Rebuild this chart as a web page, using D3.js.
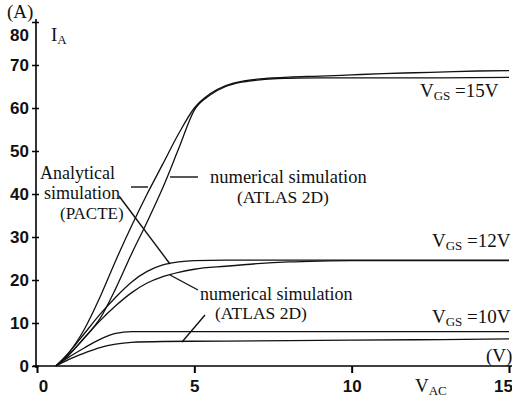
<!DOCTYPE html>
<html><head><meta charset="utf-8">
<script src="https://cdn.jsdelivr.net/npm/d3@7"></script>
<style>
html,body{margin:0;padding:0;background:#fff;}
svg{display:block;}
</style></head><body>
<svg id="c" width="512" height="400"></svg>
<script>
// ---- data (V_AC in volts, I_A in amperes) ----
const xTicks = [0, 5, 10, 15];
const yTicks = [0, 10, 20, 30, 40, 50, 60, 70, 80];

const vac15A = [0.6, 1.0, 1.5, 2.0, 2.5, 3.0, 3.5, 4.0, 4.5, 5.0, 5.5, 6.0, 6.5, 7.0, 7.5, 8.0, 9.0, 10.0, 11.0, 12.0, 13.0, 14.0, 15.0];
const ia15A  = [0, 3, 8.5, 16, 24.5, 32.5, 40, 47, 54, 60, 63.3, 65.2, 66.2, 66.7, 67, 67.2, 67.4, 67.7, 68, 68.2, 68.4, 68.6, 68.7];
const vac15N = [0.6, 1.0, 1.5, 2.0, 2.5, 3.0, 3.5, 4.0, 4.5, 5.0, 5.5, 6.0, 6.5, 7.0, 7.5, 8.0, 9.0, 10.0, 12.0, 15.0];
const ia15N  = [0, 2.5, 6.5, 11, 18, 26, 33.5, 41.5, 50.5, 59.5, 63, 65, 66, 66.5, 66.8, 66.9, 67, 67, 67, 67.1];

const vac12A = [0.6, 1.0, 1.5, 2.0, 2.5, 3.0, 3.5, 4.0, 4.5, 5.0, 6.0, 8.0, 15.0];
const ia12A  = [0, 3, 7.5, 12, 16, 19.5, 22, 23.5, 24.2, 24.5, 24.6, 24.6, 24.6];
const vac12N = [0.6, 1.0, 1.5, 2.0, 2.5, 3.0, 3.5, 4.0, 4.5, 5.0, 6.0, 7.0, 8.0, 9.0, 10.0, 15.0];
const ia12N  = [0, 2.5, 6.5, 10.5, 14, 17, 19.3, 20.8, 21.8, 22.5, 23.2, 23.8, 24.2, 24.4, 24.5, 24.5];

const vac10A = [0.6, 1.0, 1.5, 2.0, 2.5, 3.0, 4.0, 15.0];
const ia10A  = [0, 2, 4.2, 6.2, 7.6, 8.0, 8.0, 8.0];
const vac10N = [0.6, 1.0, 1.5, 2.0, 2.5, 3.0, 4.0, 6.0, 8.0, 10.0, 12.0, 15.0];
const ia10N  = [0, 1.5, 3, 4.3, 5.1, 5.5, 5.7, 5.8, 5.9, 6.0, 6.1, 6.3];

const seriesList = [
  [vac15A, ia15A], [vac15N, ia15N],
  [vac12A, ia12A], [vac12N, ia12N],
  [vac10A, ia10A], [vac10N, ia10N]
];

// ---- chart ----
const SERIF = "'Liberation Serif', 'DejaVu Serif', 'Times New Roman', serif";
const SANS = "'Liberation Sans', Arial, sans-serif";
const svg = d3.select("#c");
const x = d3.scaleLinear().domain([0, 15]).range([37, 509]);
const y = d3.scaleLinear().domain([0, 80]).range([366, 22]);

// axes
const xAxis = svg.append("g").attr("transform", `translate(0,${y(0)})`)
  .call(d3.axisBottom(x).tickValues(xTicks).tickSize(7).tickFormat(d3.format("d")));
xAxis.select(".domain").remove();
xAxis.selectAll("line").attr("stroke", "#000").attr("stroke-width", 2);
xAxis.selectAll("text").attr("font-family", SANS)
  .attr("font-weight", "bold").attr("font-size", 17).attr("fill", "#111").attr("dy", "0.95em")
  .attr("dx", d => d === 0 ? 6 : (d === 15 ? -6 : 0));
svg.append("line").attr("x1", 33).attr("x2", 512).attr("y1", y(0)).attr("y2", y(0))
  .attr("stroke", "#000").attr("stroke-width", 1.6);

const yAxis = svg.append("g").attr("transform", `translate(${x(0) - 1},0)`)
  .call(d3.axisLeft(y).tickValues(yTicks).tickSize(4).tickFormat(d3.format("d")));
yAxis.select(".domain").remove();
yAxis.selectAll("line").attr("x1", -4).attr("x2", 3).attr("stroke", "#000").attr("stroke-width", 1.5);
yAxis.selectAll("text").attr("font-family", SANS)
  .attr("font-weight", "bold").attr("font-size", 17).attr("fill", "#111").attr("x", -7)
  .attr("dy", d => d === 80 ? "1.1em" : "0.35em");
svg.append("line").attr("x1", x(0) - 1).attr("x2", x(0) - 1).attr("y1", y(0) + 2).attr("y2", 19)
  .attr("stroke", "#000").attr("stroke-width", 1.6);

// curves
const line = d3.line().x(d => x(d[0])).y(d => y(d[1])).curve(d3.curveMonotoneX);
seriesList.forEach(([xs, ys]) => {
  svg.append("path").datum(xs.map((v, i) => [v, ys[i]]))
    .attr("d", line).attr("fill", "none").attr("stroke", "#111").attr("stroke-width", 1.3);
});

// leader lines
const leaders = [
  [131, 187, 148, 187],
  [119, 196, 170, 264],
  [170, 177, 198, 177],
  [170, 275, 198, 290],
  [182, 342, 205, 315]
];
leaders.forEach(l => svg.append("line").attr("x1", l[0]).attr("y1", l[1]).attr("x2", l[2]).attr("y2", l[3])
  .attr("stroke", "#111").attr("stroke-width", 1.4));

// texts
function txt(t, xx, yy, size, anchor) {
  return svg.append("text").attr("font-family", SERIF).attr("fill", "#111")
    .attr("x", xx).attr("y", yy)
    .attr("font-size", size).attr("text-anchor", anchor || "start").text(t);
}
txt("(A)", 7, 18, 19);
const ia = txt("I", 51, 41, 19); ia.append("tspan").attr("font-size", 13).attr("dy", 3).text("A");
txt("Analytical", 40, 179, 18);
txt("simulation", 44, 199, 18);
txt("(PACTE)", 60, 219, 17);
txt("numerical simulation", 210, 183, 18.5);
txt("(ATLAS 2D)", 237, 203, 17.5);
txt("numerical simulation", 200, 300, 18);
txt("(ATLAS 2D)", 215, 319, 17.5);

function vgs(label, xx, yy) {
  const t = txt("V", xx, yy, 19);
  t.append("tspan").attr("font-size", 13).attr("dy", 3).text("GS");
  t.append("tspan").attr("font-size", 19).attr("dy", -3).text(" =" + label);
}
vgs("15V", 420, 97);
vgs("12V", 432, 247);
vgs("10V", 432, 323);

txt("(V)", 486, 362, 19);
const vac = txt("V", 415, 392, 19); vac.append("tspan").attr("font-size", 13).attr("dy", 3).text("AC");
</script>
</body></html>
